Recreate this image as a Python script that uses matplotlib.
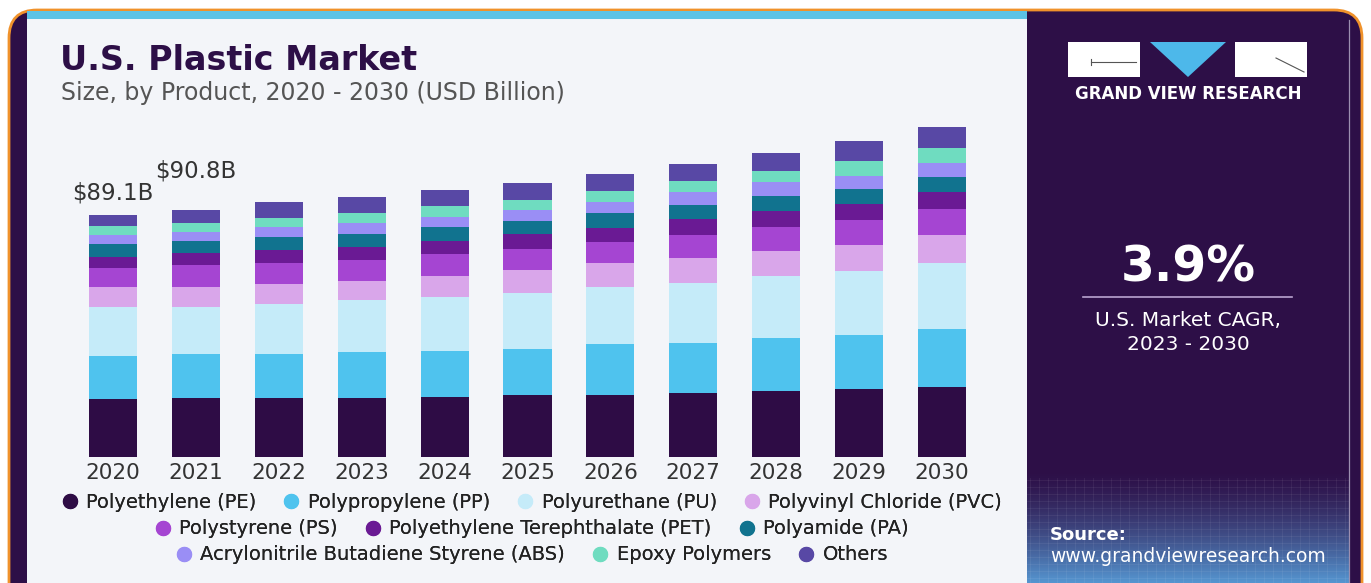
import numpy as np
import matplotlib.pyplot as plt
from matplotlib.patches import FancyBboxPatch, Rectangle, Polygon
from matplotlib.lines import Line2D

plt.rcParams['font.family'] = ['DejaVu Sans']

years = ['2020', '2021', '2022', '2023', '2024', '2025', '2026', '2027', '2028', '2029', '2030']
products = ['Polyethylene (PE)', 'Polypropylene (PP)', 'Polyurethane (PU)', 'Polyvinyl Chloride (PVC)',
            'Polystyrene (PS)', 'Polyethylene Terephthalate (PET)', 'Polyamide (PA)',
            'Acrylonitrile Butadiene Styrene (ABS)', 'Epoxy Polymers', 'Others']
colors = ['#2e0c45', '#4fc3ee', '#c5ebf9', '#d9a6ea', '#a545d2',
          '#6a1a94', '#11738f', '#9a8ef5', '#6fdcc0', '#5848a5']

# USD billion
pe = [21.3, 21.7, 21.7, 21.7, 22.1, 22.8, 22.8, 23.5, 24.3, 25.0, 25.7]
pp = [15.8, 16.2, 16.2, 16.9, 16.9, 16.9, 18.8, 18.4, 19.5, 19.9, 21.3]
pu = [18.0, 17.3, 18.4, 19.1, 19.9, 20.6, 21.0, 22.1, 22.8, 23.5, 24.3]
pvc = [7.4, 7.4, 7.4, 7.0, 7.7, 8.5, 8.8, 9.2, 9.2, 9.6, 10.3]
ps = [7.0, 8.1, 7.7, 7.7, 8.1, 7.7, 7.7, 8.5, 8.8, 9.2, 9.6]
pet = [4.0, 4.4, 4.8, 4.8, 4.8, 5.5, 5.1, 5.9, 5.9, 5.9, 6.3]
pa = [4.8, 4.4, 4.8, 4.8, 5.1, 4.8, 5.5, 5.1, 5.5, 5.5, 5.5]
abs_ = [3.3, 3.3, 3.7, 4.0, 3.7, 4.0, 4.0, 4.8, 5.1, 4.8, 5.1]
epoxy = [3.3, 3.3, 3.3, 3.7, 4.0, 3.7, 4.0, 4.0, 4.0, 5.5, 5.5]
others = [4.2, 4.7, 5.9, 5.9, 5.9, 6.3, 6.3, 6.3, 6.6, 7.4, 7.7]
series = [pe, pp, pu, pvc, ps, pet, pa, abs_, epoxy, others]

value_labels = ['$89.1B', '$90.8B']

W, H = 1371, 583
fig = plt.figure(figsize=(W / 100, H / 100), dpi=100)

# background card in pixel coordinates
bg = fig.add_axes([0, 0, 1, 1])
bg.set_xlim(0, W)
bg.set_ylim(H, 0)
bg.axis('off')

dark = '#2d0f47'
bg.add_patch(FancyBboxPatch((9, 10), 1353, 620, boxstyle='round,pad=0,rounding_size=28',
                            facecolor=dark, edgecolor='#f0922b', linewidth=2))
bg.add_patch(Rectangle((27, 12), 1000, 580, facecolor='#f3f5f9', edgecolor='none'))
bg.add_patch(Rectangle((27, 11), 1000, 8, facecolor='#5cc3e6', edgecolor='none'))

# gradient at the bottom of the side panel
grad = np.linspace(0, 1, 120)[:, None] ** 1.4
c0 = np.array([0x2d, 0x0f, 0x47]) / 255
c1 = np.array([0x55, 0x95, 0xd0]) / 255
img = c0 + (c1 - c0) * grad[..., None]
img = np.repeat(img, 2, axis=1)
bg.imshow(img, extent=(1027, 1349, 583, 470), aspect='auto', zorder=1)
for gx in np.arange(1030, 1349, 9):
    bg.plot([gx, gx], [478, 583], color='white', alpha=0.07, lw=0.6, zorder=2)
for gy in np.arange(480, 583, 7):
    bg.plot([1027, 1349], [gy, gy], color='white', alpha=0.07, lw=0.6, zorder=2)
bg.plot([1349, 1349], [20, 583], color='#9c8fb0', lw=0.9, zorder=2)

# logo
bg.add_patch(Rectangle((1068, 42), 72, 35, facecolor='white', edgecolor='none', zorder=3))
bg.add_patch(Rectangle((1235, 42), 72, 35, facecolor='white', edgecolor='none', zorder=3))
bg.add_patch(Polygon([(1150, 42), (1226, 42), (1188, 77)], closed=True,
                     facecolor='#4db8ea', edgecolor='none', zorder=3))
bg.plot([1091, 1136], [62, 62], color='#555555', lw=0.8, zorder=4)
bg.plot([1091, 1091], [59, 65], color='#555555', lw=0.8, zorder=4)
bg.plot([1276, 1304], [58, 72], color='#555555', lw=0.8, zorder=4)
bg.text(1188, 94, 'GRAND VIEW RESEARCH', color='white', fontsize=12, fontweight='bold',
        ha='center', va='center', zorder=4)

bg.text(1188, 268, '3.9%', color='white', fontsize=35, fontweight='bold',
        ha='center', va='center', zorder=4)
bg.plot([1083, 1292], [297, 297], color='#b9a3cf', lw=1.2, zorder=4)
bg.text(1188, 321, 'U.S. Market CAGR,', color='white', fontsize=14.5, ha='center', va='center', zorder=4)
bg.text(1188, 344, '2023 - 2030', color='white', fontsize=14.5, ha='center', va='center', zorder=4)
bg.text(1050, 535, 'Source:', color='white', fontsize=13, fontweight='bold', ha='left', va='center', zorder=4)
bg.text(1050, 557, 'www.grandviewresearch.com', color='white', fontsize=13.5, ha='left', va='center', zorder=4)

bg.text(60, 60, 'U.S. Plastic Market', color='#2d0f47', fontsize=24, fontweight='heavy',
        ha='left', va='center')
bg.text(61, 93, 'Size, by Product, 2020 - 2030 (USD Billion)', color='#555555', fontsize=17,
        ha='left', va='center')

# chart axes: baseline at y=457 px, 2.72 px per billion, 82.9 px per year
ax = fig.add_axes([30 / W, (H - 457) / H, 990 / W, 337 / H])
ax.patch.set_alpha(0)
x = np.arange(len(years))
bottom = np.zeros(len(years))
for name, vals, c in zip(products, series, colors):
    ax.bar(x, vals, bottom=bottom, width=0.58, color=c, label=name, zorder=3)
    bottom += np.array(vals)

ax.text(x[0], bottom[0] + 8.0, value_labels[0], ha='center', va='center', fontsize=16.5, color='#333333')
ax.text(x[1], bottom[1] + 14.3, value_labels[1], ha='center', va='center', fontsize=16.5, color='#333333')

ax.set_xlim((30 - 113) / 82.9, (1020 - 113) / 82.9)
ax.set_ylim(0, 337 / 2.72)
ax.set_xticks(x, years)
ax.tick_params(axis='x', length=0, pad=4, labelsize=15.5, labelcolor='#333333')
ax.set_yticks([])
for s in ax.spines.values():
    s.set_visible(False)

# legend in three centred rows
handles = [Line2D([], [], marker='o', linestyle='none', markersize=10,
                  markerfacecolor=c, markeredgecolor=c) for c in colors]
rows = [(0, 4, 502), (4, 7, 529), (7, 10, 555)]
for i0, i1, py in rows:
    leg = fig.legend(handles[i0:i1], products[i0:i1], loc='center',
                     bbox_to_anchor=(530 / W, 1 - py / H), ncol=i1 - i0, frameon=False,
                     fontsize=14, handletextpad=0.25, columnspacing=1.2, handlelength=1.2,
                     labelcolor='#222222', borderpad=0)
    fig.add_artist(leg)

fig.savefig('out.png', dpi=100)
